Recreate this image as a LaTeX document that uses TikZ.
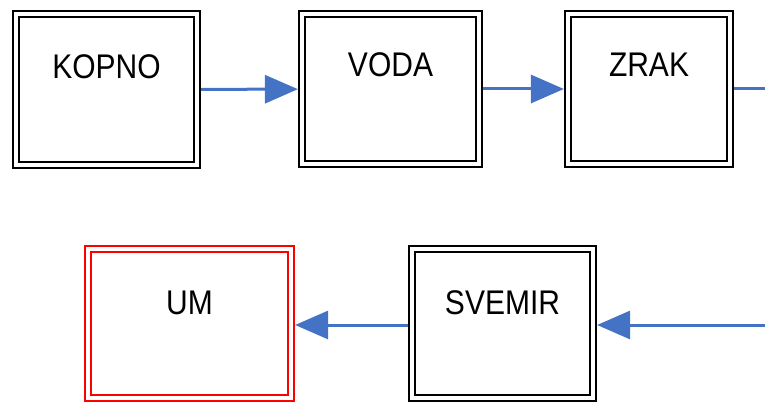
\documentclass[tikz,border=0pt]{standalone}
\usepackage{fontspec}
\setmainfont{Liberation Sans}
\usepackage{graphicx}
\usetikzlibrary{arrows.meta}
\definecolor{connblue}{RGB}{68,114,196}
\begin{document}
\begin{tikzpicture}[x=1pt,y=-1pt,
  box/.style={draw=black, double=white, line width=2.3pt, double distance=3.6pt, rectangle, inner sep=0pt, outer sep=4.1pt},
  redbox/.style={box, draw=red},
  lbl/.style={font=\fontsize{30}{31}\selectfont, inner sep=0pt},
  connline/.style={draw=connblue, line width=3pt},
  conn/.style={connline, -{Triangle[length=33pt,width=28pt]}}]
\useasboundingbox (0,0) rectangle (765,403);
\node[box, minimum width=181pt, minimum height=151pt,
  label={[lbl, yshift=23pt]center:\scalebox{1}[1.14]{KOPNO}}] (kopno) at (106.5,89.5) {};
\node[box, minimum width=177pt, minimum height=150pt,
  label={[lbl, yshift=24pt]center:\scalebox{1}[1.14]{VODA}}] (voda) at (390.5,89) {};
\node[box, minimum width=162pt, minimum height=150pt,
  label={[lbl, yshift=24pt]center:\scalebox{1}[1.14]{ZRAK}}] (zrak) at (649,89) {};
\node[box, minimum width=181pt, minimum height=149pt,
  label={[lbl, yshift=21pt]center:\scalebox{1}[1.14]{SVEMIR}}] (svemir) at (502.5,323.5) {};
\node[redbox, minimum width=203pt, minimum height=149pt,
  label={[lbl, yshift=21pt]center:\scalebox{1}[1.14]{UM}}] (um) at (189.5,323.5) {};
\coordinate (zout) at (765,89);
\coordinate (sin) at (765,325);
\draw[conn] (kopno) -- (voda);
\draw[conn] (voda) -- (zrak);
\draw[connline] (zrak) -- (zout);
\draw[conn] (sin) -- (svemir.east |- sin);
\draw[conn] (svemir.west |- sin) -- (um.east |- sin);
\end{tikzpicture}
\end{document}
